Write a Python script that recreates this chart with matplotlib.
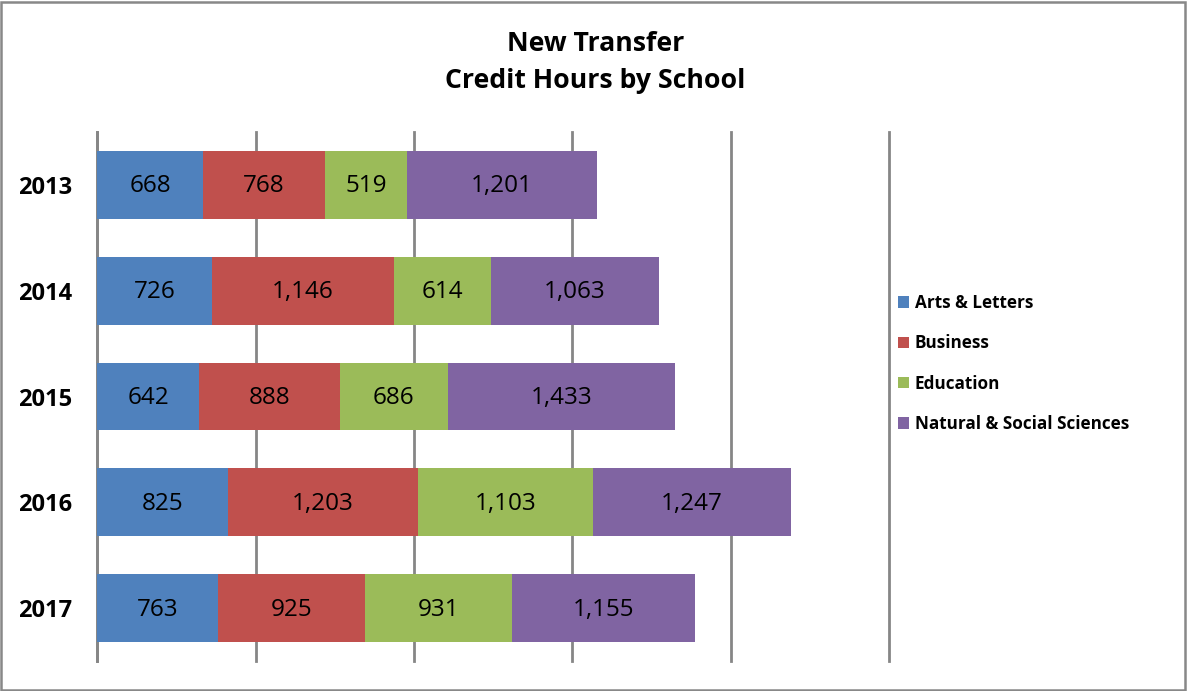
import matplotlib
matplotlib.use("Agg")
import matplotlib.pyplot as plt
from matplotlib.patches import Rectangle

years = ["2013", "2014", "2015", "2016", "2017"]
series_names = ["Arts & Letters", "Business", "Education", "Natural & Social Sciences"]
arts_letters = [668, 726, 642, 825, 763]
business = [768, 1146, 888, 1203, 925]
education = [519, 614, 686, 1103, 931]
nat_soc_sci = [1201, 1063, 1433, 1247, 1155]
colors = ["#4F81BD", "#C0504D", "#9BBB59", "#8064A2"]

plt.rcParams['font.family'] = ['Open Sans', 'DejaVu Sans']

fig = plt.figure(figsize=(11.87, 6.91), dpi=100)
ax = fig.add_axes([97.3/1187, 1 - 661/691, (889 - 97.3)/1187, (661 - 132)/691])

series = [arts_letters, business, education, nat_soc_sci]
ypos = list(range(len(years)))
left = [0] * len(years)
for name, vals, c in zip(series_names, series, colors):
    ax.barh(ypos, vals, left=left, height=0.64, color=c, label=name,
            zorder=3, linewidth=0)
    for y, v, l in zip(ypos, vals, left):
        ax.text(l + v / 2, y + 0.015, f"{v:,}", ha="center", va="center",
                fontsize=17.5, color="black", zorder=4)
    left = [a + b for a, b in zip(left, vals)]

ax.set_xlim(0, 5000)
ax.set_ylim(len(years) - 0.5, -0.5)
ax.set_xticks(range(0, 5001, 1000))
ax.xaxis.grid(True, color="#868686", linewidth=2, zorder=0)
for gl in ax.get_xgridlines():
    gl.set_clip_on(False)
ax.tick_params(axis="x", length=0, labelbottom=False)
ax.tick_params(axis="y", length=0, pad=18)
ax.set_yticks(ypos)
ax.set_yticklabels(years, fontsize=17, fontweight="bold")
for s in ["top", "right", "bottom"]:
    ax.spines[s].set_visible(False)
ax.spines["left"].set_color("#868686")
ax.spines["left"].set_linewidth(2)

handles, labels = ax.get_legend_handles_labels()
fig.legend(handles, labels, loc="center left",
           bbox_to_anchor=(891/1187, 1 - 363.5/691),
           frameon=False, prop={"size": 12.3, "weight": "bold"},
           handlelength=0.65, handleheight=0.65, handletextpad=0.35,
           labelspacing=1.3, borderaxespad=0)

fig.text(0.5015, 1 - 62.5/691, "New Transfer\nCredit Hours by School",
         ha="center", va="center", fontsize=19.2, fontweight="bold",
         linespacing=1.55)

fig.patches.append(Rectangle((1/1187, 1/691), 1184/1187, 688/691,
                             transform=fig.transFigure, fill=False,
                             edgecolor="#888888", linewidth=1.8))

fig.savefig("out.png", dpi=100)
